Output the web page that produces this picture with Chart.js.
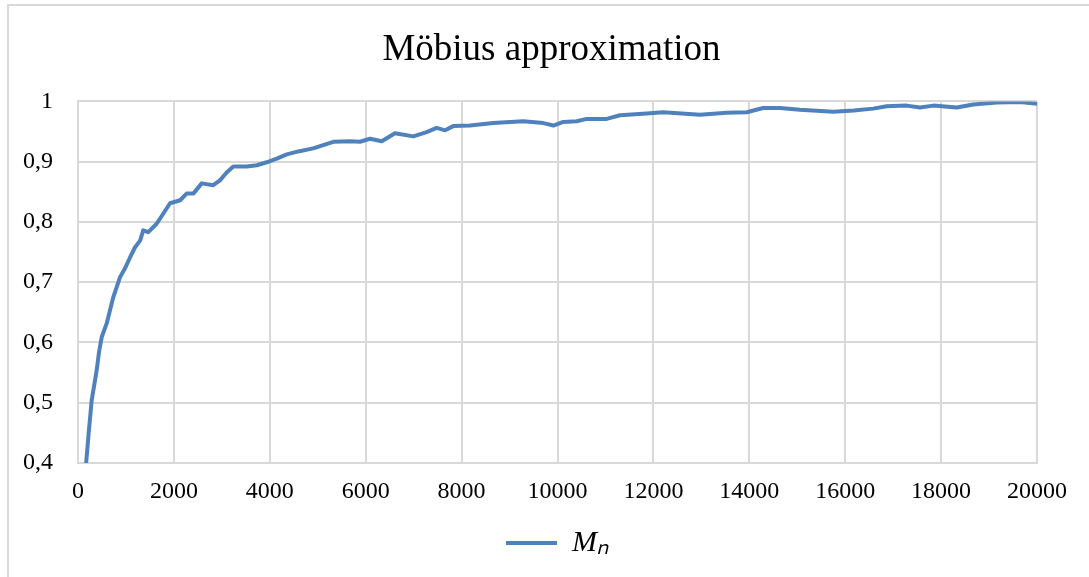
<!DOCTYPE html>
<html>
<head>
<meta charset="utf-8">
<script src="https://cdn.jsdelivr.net/npm/chart.js@4"></script>
<style>
  html, body { margin: 0; padding: 0; background: #fff; overflow: hidden; }
  #frame {
    position: absolute; left: 7px; top: 4px;
    width: 1089px; height: 571px;
    border-left: 2px solid #d9d9d9; border-top: 2px solid #d9d9d9;
  }
</style>
</head>
<body>
<div id="frame"><canvas id="myChart" width="1089" height="571"></canvas></div>
<script>
// n values and the approximation
const nValues = [170, 215, 285, 340, 390, 440, 495, 600, 735, 875, 980, 1085, 1190, 1295, 1360, 1465,
  1640, 1780, 1920, 2130, 2265, 2405, 2580, 2820, 2960, 3100, 3240, 3520, 3730, 3935, 4145, 4355,
  4595, 4905, 5325, 5675, 5880, 6090, 6335, 6610, 6995, 7270, 7480, 7655, 7825, 8175, 8660, 9285,
  9705, 9915, 10120, 10400, 10610, 11025, 11305, 11860, 12205, 12970, 13530, 13945, 14290, 14640,
  15055, 15755, 16175, 16585, 16865, 17280, 17560, 17840, 18325, 18670, 19160, 19645, 20000];
const mValues = [0.400, 0.443, 0.504, 0.530, 0.554, 0.585, 0.609, 0.632, 0.675, 0.708, 0.723, 0.741,
  0.758, 0.769, 0.786, 0.783, 0.797, 0.814, 0.831, 0.836, 0.847, 0.847, 0.864, 0.861, 0.869, 0.882,
  0.892, 0.892, 0.894, 0.899, 0.905, 0.912, 0.917, 0.922, 0.933, 0.934, 0.933, 0.938, 0.934, 0.947,
  0.942, 0.949, 0.956, 0.952, 0.959, 0.960, 0.964, 0.967, 0.964, 0.960, 0.966, 0.967, 0.971, 0.971,
  0.977, 0.980, 0.982, 0.978, 0.981, 0.982, 0.989, 0.989, 0.986, 0.983, 0.985, 0.988, 0.992, 0.993,
  0.990, 0.993, 0.990, 0.995, 0.998, 0.999, 0.996];

const gridColor = '#d9d9d9';
const serif = '"Liberation Serif", "Times New Roman", serif';

new Chart(document.getElementById('myChart'), {
    type: 'line',
    data: {
        datasets: [{
            label: 'Mₙ',
            data: nValues.map((n, i) => ({ x: n, y: mValues[i] })),
            borderColor: '#4f81bd',
            backgroundColor: '#4f81bd',
            borderWidth: 4,
            borderJoinStyle: 'round',
            borderCapStyle: 'round',
            pointRadius: 0,
            tension: 0
        }]
    },
    options: {
        responsive: false,
        animation: false,
        layout: { padding: { left: 0, right: 4, top: 0, bottom: 9 } },
        plugins: {
            title: {
                display: true,
                text: 'Möbius approximation',
                color: '#000',
                font: { family: serif, size: 37, weight: 'normal' },
                padding: { top: 22, bottom: 29 }
            },
            legend: {
                position: 'bottom',
                fullSize: false,
                labels: {
                    usePointStyle: true,
                    pointStyle: 'line',
                    pointStyleWidth: 51,
                    color: '#000',
                    padding: 10,
                    font: { family: serif, size: 30, style: 'italic' }
                }
            },
            tooltip: { enabled: false }
        },
        scales: {
            x: {
                type: 'linear',
                min: 0,
                max: 20000,
                afterFit: (axis) => { axis.height = 55; },
                grid: { color: gridColor, lineWidth: 2, drawTicks: false },
                border: { color: gridColor, width: 2 },
                ticks: {
                    stepSize: 2000,
                    autoSkip: false,
                    maxRotation: 0,
                    padding: 14,
                    color: '#000',
                    font: { family: serif, size: 24 },
                    callback: (v) => String(v)
                }
            },
            y: {
                min: 0.4,
                max: 1,
                afterFit: (axis) => { axis.width = 69; },
                grid: { color: gridColor, lineWidth: 2, drawTicks: false },
                border: { color: gridColor, width: 2 },
                ticks: {
                    stepSize: 0.1,
                    padding: 25,
                    color: '#000',
                    font: { family: serif, size: 24 },
                    callback: (v) => String(Number(v.toFixed(1))).replace('.', ',')
                }
            },
            // empty space on the right so the title stays centred on the frame
            spacer: {
                type: 'linear',
                position: 'right',
                afterFit: (axis) => { axis.width = 57; },
                grid: { display: false },
                border: { display: false },
                ticks: { display: false }
            }
        }
    }
});
</script>
</body>
</html>
